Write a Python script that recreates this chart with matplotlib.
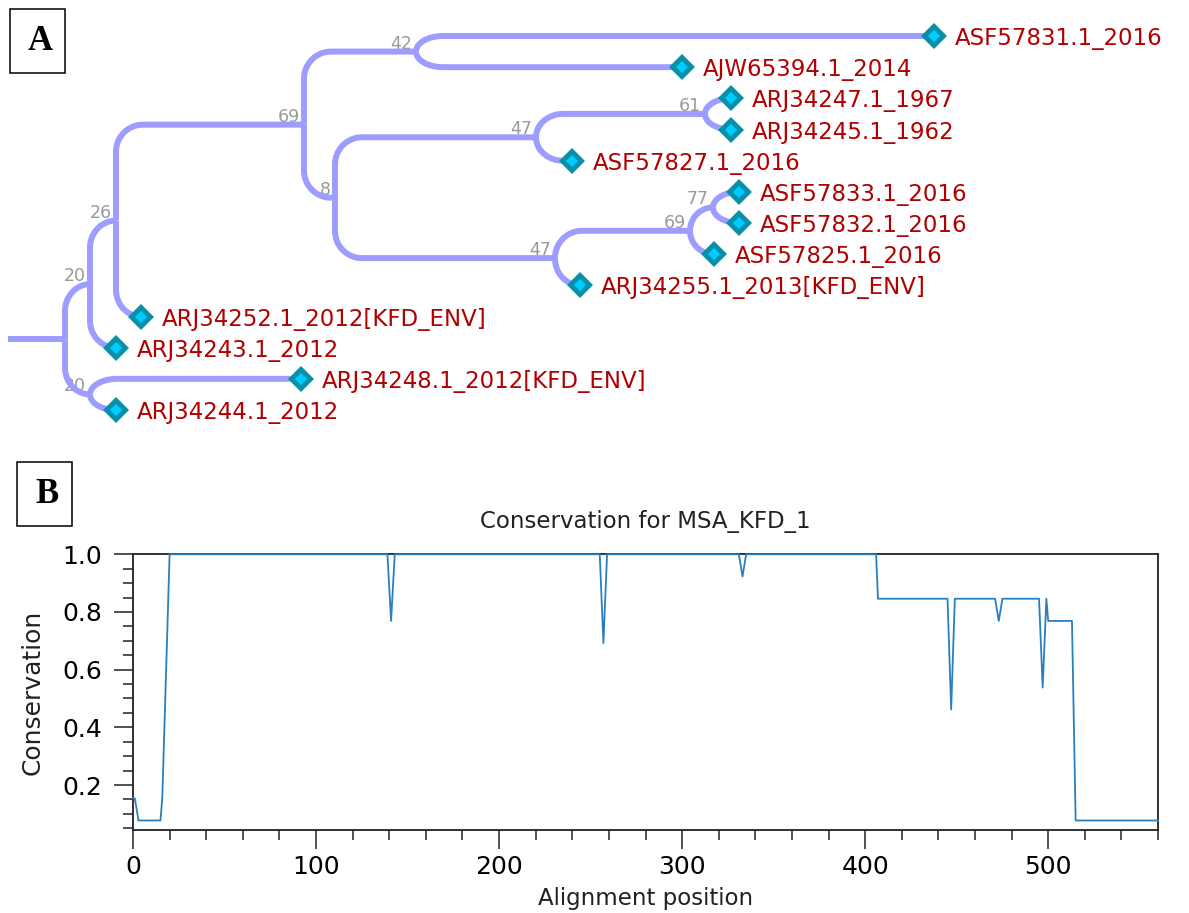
import numpy as np
import matplotlib
matplotlib.use("Agg")
import matplotlib.pyplot as plt
from matplotlib.patches import Rectangle
from matplotlib.ticker import MultipleLocator

# ---- panel A: tree data (leaves top to bottom) ----
leaf_names = ["ASF57831.1_2016", "AJW65394.1_2014", "ARJ34247.1_1967",
              "ARJ34245.1_1962", "ASF57827.1_2016", "ASF57833.1_2016",
              "ASF57832.1_2016", "ASF57825.1_2016", "ARJ34255.1_2013[KFD_ENV]",
              "ARJ34252.1_2012[KFD_ENV]", "ARJ34243.1_2012",
              "ARJ34248.1_2012[KFD_ENV]", "ARJ34244.1_2012"]
leaf_dist = [0.869, 0.617, 0.666, 0.666, 0.507, 0.674, 0.674, 0.649, 0.515,
             0.076, 0.051, 0.236, 0.051]

# internal nodes, children before parents
node_names = ["n42", "n61", "n47a", "n77", "n69b", "n47b", "n8", "n69",
              "n26", "n20a", "n20b", "root"]
node_children = [
    ["ASF57831.1_2016", "AJW65394.1_2014"],
    ["ARJ34247.1_1967", "ARJ34245.1_1962"],
    ["n61", "ASF57827.1_2016"],
    ["ASF57833.1_2016", "ASF57832.1_2016"],
    ["n77", "ASF57825.1_2016"],
    ["n69b", "ARJ34255.1_2013[KFD_ENV]"],
    ["n47a", "n47b"],
    ["n42", "n8"],
    ["n69", "ARJ34252.1_2012[KFD_ENV]"],
    ["n26", "ARJ34243.1_2012"],
    ["ARJ34248.1_2012[KFD_ENV]", "ARJ34244.1_2012"],
    ["n20a", "n20b"],
]
node_dist = [0.351, 0.640, 0.471, 0.648, 0.625, 0.490, 0.270, 0.239,
             0.051, 0.025, 0.025, 0.0]
node_support = ["42", "61", "47", "77", "69", "47", "8", "69",
                "26", "20", "20", ""]

# ---- panel B: conservation profile ----
cons_pos = [0, 1, 3, 15, 16, 20, 139, 141, 143, 255, 257, 259, 331, 333, 335,
            406, 407, 445, 447, 449, 471, 473, 475, 495, 497, 499, 500,
            513, 515, 560]
cons_val = [0.154, 0.154, 0.077, 0.077, 0.154, 1.0, 1.0, 0.769, 1.0, 1.0,
            0.692, 1.0, 1.0, 0.923, 1.0, 1.0, 0.846, 0.846, 0.462, 0.846,
            0.846, 0.769, 0.846, 0.846, 0.538, 0.846, 0.769, 0.769, 0.077,
            0.077]

W, H = 1189, 913
fig = plt.figure(figsize=(W / 100, H / 100), dpi=100)

# tree axes: top 440 px of the figure
kx = 1000.0   # px per distance unit
ky = 31.17    # px per leaf row
x0_px, y0_px, top_h = 65, 36, 440
ax_t = fig.add_axes([0, 1 - top_h / H, 1, top_h / H])
ax_t.set_xlim(-x0_px / kx, (W - x0_px) / kx)
ax_t.set_ylim((top_h - y0_px) / ky, -y0_px / ky)
ax_t.axis("off")

pos = {}
for i, (n, d) in enumerate(zip(leaf_names, leaf_dist)):
    pos[n] = (d, float(i))
for n, ch, d in zip(node_names, node_children, node_dist):
    pos[n] = (d, np.mean([pos[c][1] for c in ch]))

branch_col = "#9d9dff"
R = 27.0


def branch(p, c):
    # vertical from parent, rounded (elliptical) corner, horizontal to child
    px, py = p
    cx, cy = c
    dy = (cy - py) * ky
    s = np.sign(dy)
    ry = min(R, abs(dy))
    rx = min(R, (cx - px) * kx)
    t = np.linspace(0, np.pi / 2, 30)
    xs = [px] + list(px + rx / kx * (1 - np.cos(t))) + [cx]
    ys = [py] + list(cy - s * ry / ky * (1 - np.sin(t))) + [cy]
    ax_t.plot(xs, ys, color=branch_col, lw=4.3, solid_capstyle="butt",
              solid_joinstyle="round", zorder=2)


for n, ch, sup in zip(node_names, node_children, node_support):
    for c in ch:
        branch(pos[n], pos[c])
    if sup:
        x, y = pos[n]
        ax_t.text(x - 4 / kx, y - 3 / ky, sup, color="#999999", fontsize=12.5,
                  ha="right", va="baseline", zorder=1)

rx0, ry0 = pos["root"]
ax_t.plot([-57 / kx, rx0], [ry0, ry0], color=branch_col, lw=4.3,
          solid_capstyle="butt", zorder=2)

ax_t.plot(leaf_dist, range(len(leaf_dist)), "D", color="#0890aa", ms=13.5,
          mew=0, zorder=4)
ax_t.plot(leaf_dist, range(len(leaf_dist)), "D", color="#00ccff", ms=6.3,
          mew=0, zorder=5)
for i, (n, d) in enumerate(zip(leaf_names, leaf_dist)):
    ax_t.text(d + 21 / kx, i, n, color="#b00000", fontsize=16.5,
              ha="left", va="center_baseline", zorder=5)

# ---- conservation axes ----
ax = fig.add_axes([133 / W, (H - 830) / H, (1158 - 133) / W, (830 - 554.3) / H])
ax.plot(cons_pos, cons_val, color="#2a7fc1", lw=1.3, zorder=3, clip_on=False)
ax.set_xlim(0, 560)
ax.set_ylim(0.044, 1.0)
ax.set_xticks([0, 100, 200, 300, 400, 500])
ax.xaxis.set_minor_locator(MultipleLocator(20))
ax.set_yticks([0.2, 0.4, 0.6, 0.8, 1.0])
ax.yaxis.set_minor_locator(MultipleLocator(0.05))
ax.tick_params(which="major", direction="out", length=14, width=1.1,
               labelsize=18, color="#222222")
ax.tick_params(which="minor", direction="out", length=7, width=1.1,
               color="#222222")
ax.tick_params(axis="y", which="major", pad=8)
ax.tick_params(axis="x", which="major", pad=4)
for sp in ax.spines.values():
    sp.set_linewidth(1.3)
    sp.set_color("#222222")
ax.set_title("Conservation for MSA_KFD_1", fontsize=16.5, pad=19,
             color="#222222")
ax.set_xlabel("Alignment position", fontsize=16.5, color="#222222")
ax.xaxis.set_label_coords(0.5, -0.205)
ax.set_ylabel("Conservation", fontsize=18, color="#222222")
ax.yaxis.set_label_coords(-0.086, 0.5)

# ---- panel letters ----
for lab, (bx0, by0, bx1, by1) in zip(["A", "B"],
                                       [(10, 9, 65, 73), (17, 462, 72, 526)]):
    fig.add_artist(Rectangle((bx0 / W, 1 - by1 / H), (bx1 - bx0) / W,
                             (by1 - by0) / H, transform=fig.transFigure,
                             fill=False, lw=1.1, ec="black"))
    fig.text((bx0 + bx1) / 2 / W + 3 / W, 1 - (by0 + by1) / 2 / H, lab,
             fontsize=25, fontweight="bold", family="Liberation Serif",
             ha="center", va="center")

fig.savefig("out.png", dpi=100)
